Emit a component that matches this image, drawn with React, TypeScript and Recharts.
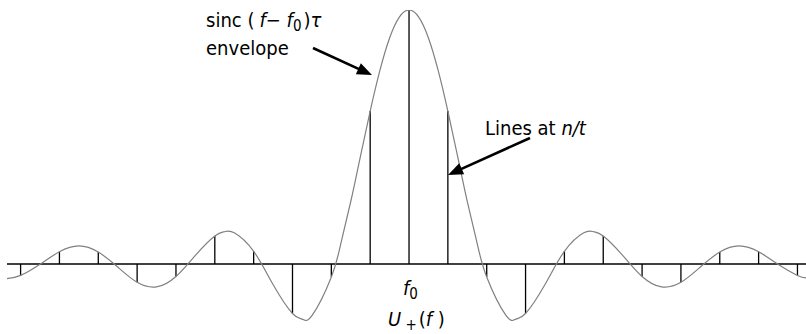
import React from 'react';
import { ComposedChart, Line, XAxis, YAxis, ReferenceLine } from 'recharts';

// spectral line index n (spacing 1/t) and their heights relative to the peak
const lineN = [-10, -9, -8, -7, -6, -5, -4, -3, -2, -1, 0, 1, 2, 3, 4, 5, 6, 7, 8, 9, 10];
const lineAmp = [
  -0.045, 0.048, 0.047, -0.072, -0.049, 0.11, 0.05, -0.195, -0.051, 0.602, 1,
  0.602, -0.051, -0.195, 0.05, 0.11, -0.049, -0.072, 0.047, 0.048, -0.045,
];

// sinc envelope read along the axis
const envN = [
  -10.35, -10, -9.5, -9, -8.5, -8, -7.5, -7, -6.5, -6, -5.5, -5, -4.75, -4.5, -4, -3.5, -3, -2.75,
  -2.5, -2, -1.75, -1.5, -1.25, -1, -0.75, -0.5, -0.25, 0, 0.25, 0.5, 0.75, 1, 1.25, 1.5, 1.75, 2,
  2.5, 2.75, 3, 3.5, 4, 4.5, 4.75, 5, 5.5, 6, 6.5, 7, 7.5, 8, 8.5, 9, 9.5, 10, 10.22,
];
const envV = [
  -0.058, -0.045, -0.001, 0.048, 0.071, 0.047, -0.012, -0.072, -0.09, -0.049, 0.034, 0.11, 0.127,
  0.123, 0.05, -0.081, -0.195, -0.217, -0.203, -0.051, 0.084, 0.246, 0.425, 0.602, 0.762, 0.89,
  0.972, 1, 0.972, 0.89, 0.762, 0.602, 0.425, 0.246, 0.084, -0.051, -0.203, -0.217, -0.195, -0.081,
  0.05, 0.123, 0.127, 0.11, 0.034, -0.049, -0.09, -0.072, -0.012, 0.047, 0.071, 0.048, -0.001,
  -0.045, -0.055,
];

const data = envN.map((n, i) => ({ n, env: envV[i] }));

const FONT = "'DejaVu Sans Condensed', 'Liberation Sans Narrow', 'Roboto', sans-serif";

const Arrow = ({ x1, y1, x2, y2 }: { x1: number; y1: number; x2: number; y2: number }) => {
  const dx = x2 - x1;
  const dy = y2 - y1;
  const len = Math.sqrt(dx * dx + dy * dy);
  const ux = dx / len;
  const uy = dy / len;
  const head = 15;
  const half = 6;
  const bx = x2 - ux * head;
  const by = y2 - uy * head;
  return (
    <g>
      <line x1={x1} y1={y1} x2={bx + ux * 2} y2={by + uy * 2} stroke="#000" strokeWidth={2.6} />
      <polygon
        points={`${x2},${y2} ${bx - uy * half},${by + ux * half} ${bx + uy * half},${by - ux * half}`}
        fill="#000"
      />
    </g>
  );
};

export default function App() {
  return (
    <div style={{ position: 'relative', width: 806, height: 334, background: '#fff' }}>
      <style>{'body{margin:0}'}</style>
      <ComposedChart width={806} height={334} data={data} margin={{ top: 10, right: 0, bottom: 1, left: 7 }}>
        <XAxis dataKey="n" type="number" domain={[-10.35, 10.22]} hide allowDataOverflow />
        <YAxis type="number" domain={[-0.2717, 1]} hide allowDataOverflow />
        <ReferenceLine y={0} stroke="#000" strokeWidth={1.5} />
        {lineN.map((n, i) => (
          <ReferenceLine
            key={n}
            segment={[
              { x: n, y: 0 },
              { x: n, y: lineAmp[i] },
            ]}
            stroke="#000"
            strokeWidth={1.3}
          />
        ))}
        <Line
          dataKey="env"
          type="natural"
          stroke="#808080"
          strokeWidth={1.2}
          dot={false}
          isAnimationActive={false}
        />
      </ComposedChart>
      <svg
        width={806}
        height={334}
        style={{ position: 'absolute', left: 0, top: 0, pointerEvents: 'none' }}
        fontFamily={FONT}
        fontSize={20}
        fill="#000"
      >
        <text x={206} y={27}>
          sinc (
          <tspan fontStyle="italic" dx={5}>f</tspan>
          <tspan>− </tspan>
          <tspan fontStyle="italic">f</tspan>
          <tspan fontSize={15} dy={4}>0</tspan>
          <tspan dy={-4} dx={2}>)</tspan>
          <tspan fontStyle="italic">τ</tspan>
        </text>
        <text x={206} y={55}>envelope</text>
        <Arrow x1={313} y1={48} x2={372} y2={75} />
        <text x={485} y={135}>
          Lines at <tspan fontStyle="italic">n/t</tspan>
        </text>
        <Arrow x1={530} y1={138} x2={448} y2={175} />
        <text x={403} y={295}>
          <tspan fontStyle="italic">f</tspan>
          <tspan fontSize={15} dy={4}>0</tspan>
        </text>
        <text x={388} y={326}>
          <tspan fontStyle="italic">U</tspan>
          <tspan fontSize={15} dy={4}> +</tspan>
          <tspan dy={-4} dx={2}>(</tspan>
          <tspan fontStyle="italic">f</tspan>
          <tspan> )</tspan>
        </text>
      </svg>
    </div>
  );
}
